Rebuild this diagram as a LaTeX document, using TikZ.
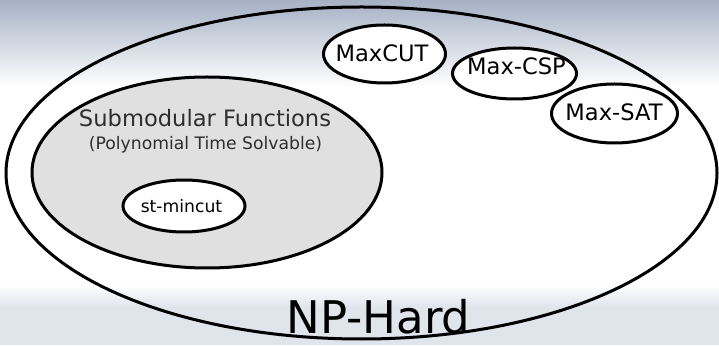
\documentclass[tikz,border=0pt]{standalone}
\usepackage{fontspec}
\setmainfont{DejaVu Sans}
\usetikzlibrary{shapes.geometric}
\definecolor{skytop}{RGB}{166,177,197}
\definecolor{floorgray}{RGB}{224,228,235}
\definecolor{setgray}{RGB}{224,224,224}
\tikzset{
  setoval/.style={ellipse, draw=black, line width=3pt, inner sep=0pt},
  caption/.style={anchor=base, inner sep=0pt},
  bigtxt/.style={caption, font=\fontsize{22.6}{27}\selectfont},
  smalltxt/.style={caption, font=\fontsize{17.2}{20}\selectfont},
}
\begin{document}
\begin{tikzpicture}[x=1pt,y=1pt]
\useasboundingbox (0,0) rectangle (719,345);
% background: blue-grey sky fading to white, light grey floor
\fill[white] (0,0) rectangle (719,345);
\shade[top color=skytop, bottom color=white] (0,258) rectangle (719,345);
\fill[floorgray] (0,0) rectangle (719,38);
\shade[top color=white, bottom color=floorgray] (0,38) rectangle (719,60);

% the class of NP-hard problems
\node[setoval, minimum width=711, minimum height=332] (nphard) at (361.5,172) {};
\node[caption, font=\fontsize{45}{54}\selectfont] (nplabel) at (378.5,12) {NP-Hard};

% submodular functions and st-mincut
\node[setoval, fill=setgray, minimum width=350, minimum height=191] (submod) at (207,172.5) {};
\node[bigtxt, text=black!82] (submodlabel) at (205,218) {Submodular Functions};
\node[smalltxt, text=black!82] (polylabel) at (205.5,195) {(Polynomial Time Solvable)};
\node[setoval, fill=white, minimum width=122, minimum height=52] (mincut) at (184,139) {};
\node[smalltxt] (mincutlabel) at (181.5,132) {st-mincut};

% hard maximisation problems
\node[setoval, fill=white, minimum width=122, minimum height=58] (maxcut) at (384.5,291) {};
\node[bigtxt] (maxcutlabel) at (382,283) {MaxCUT};
\node[setoval, fill=white, minimum width=124, minimum height=51] (maxcsp) at (514.5,271.5) {};
\node[bigtxt] (maxcsplabel) at (516.5,270) {Max-CSP};
\node[setoval, fill=white, minimum width=126, minimum height=59] (maxsat) at (614.5,231.5) {};
\node[bigtxt] (maxsatlabel) at (614,224) {Max-SAT};
\end{tikzpicture}
\end{document}
